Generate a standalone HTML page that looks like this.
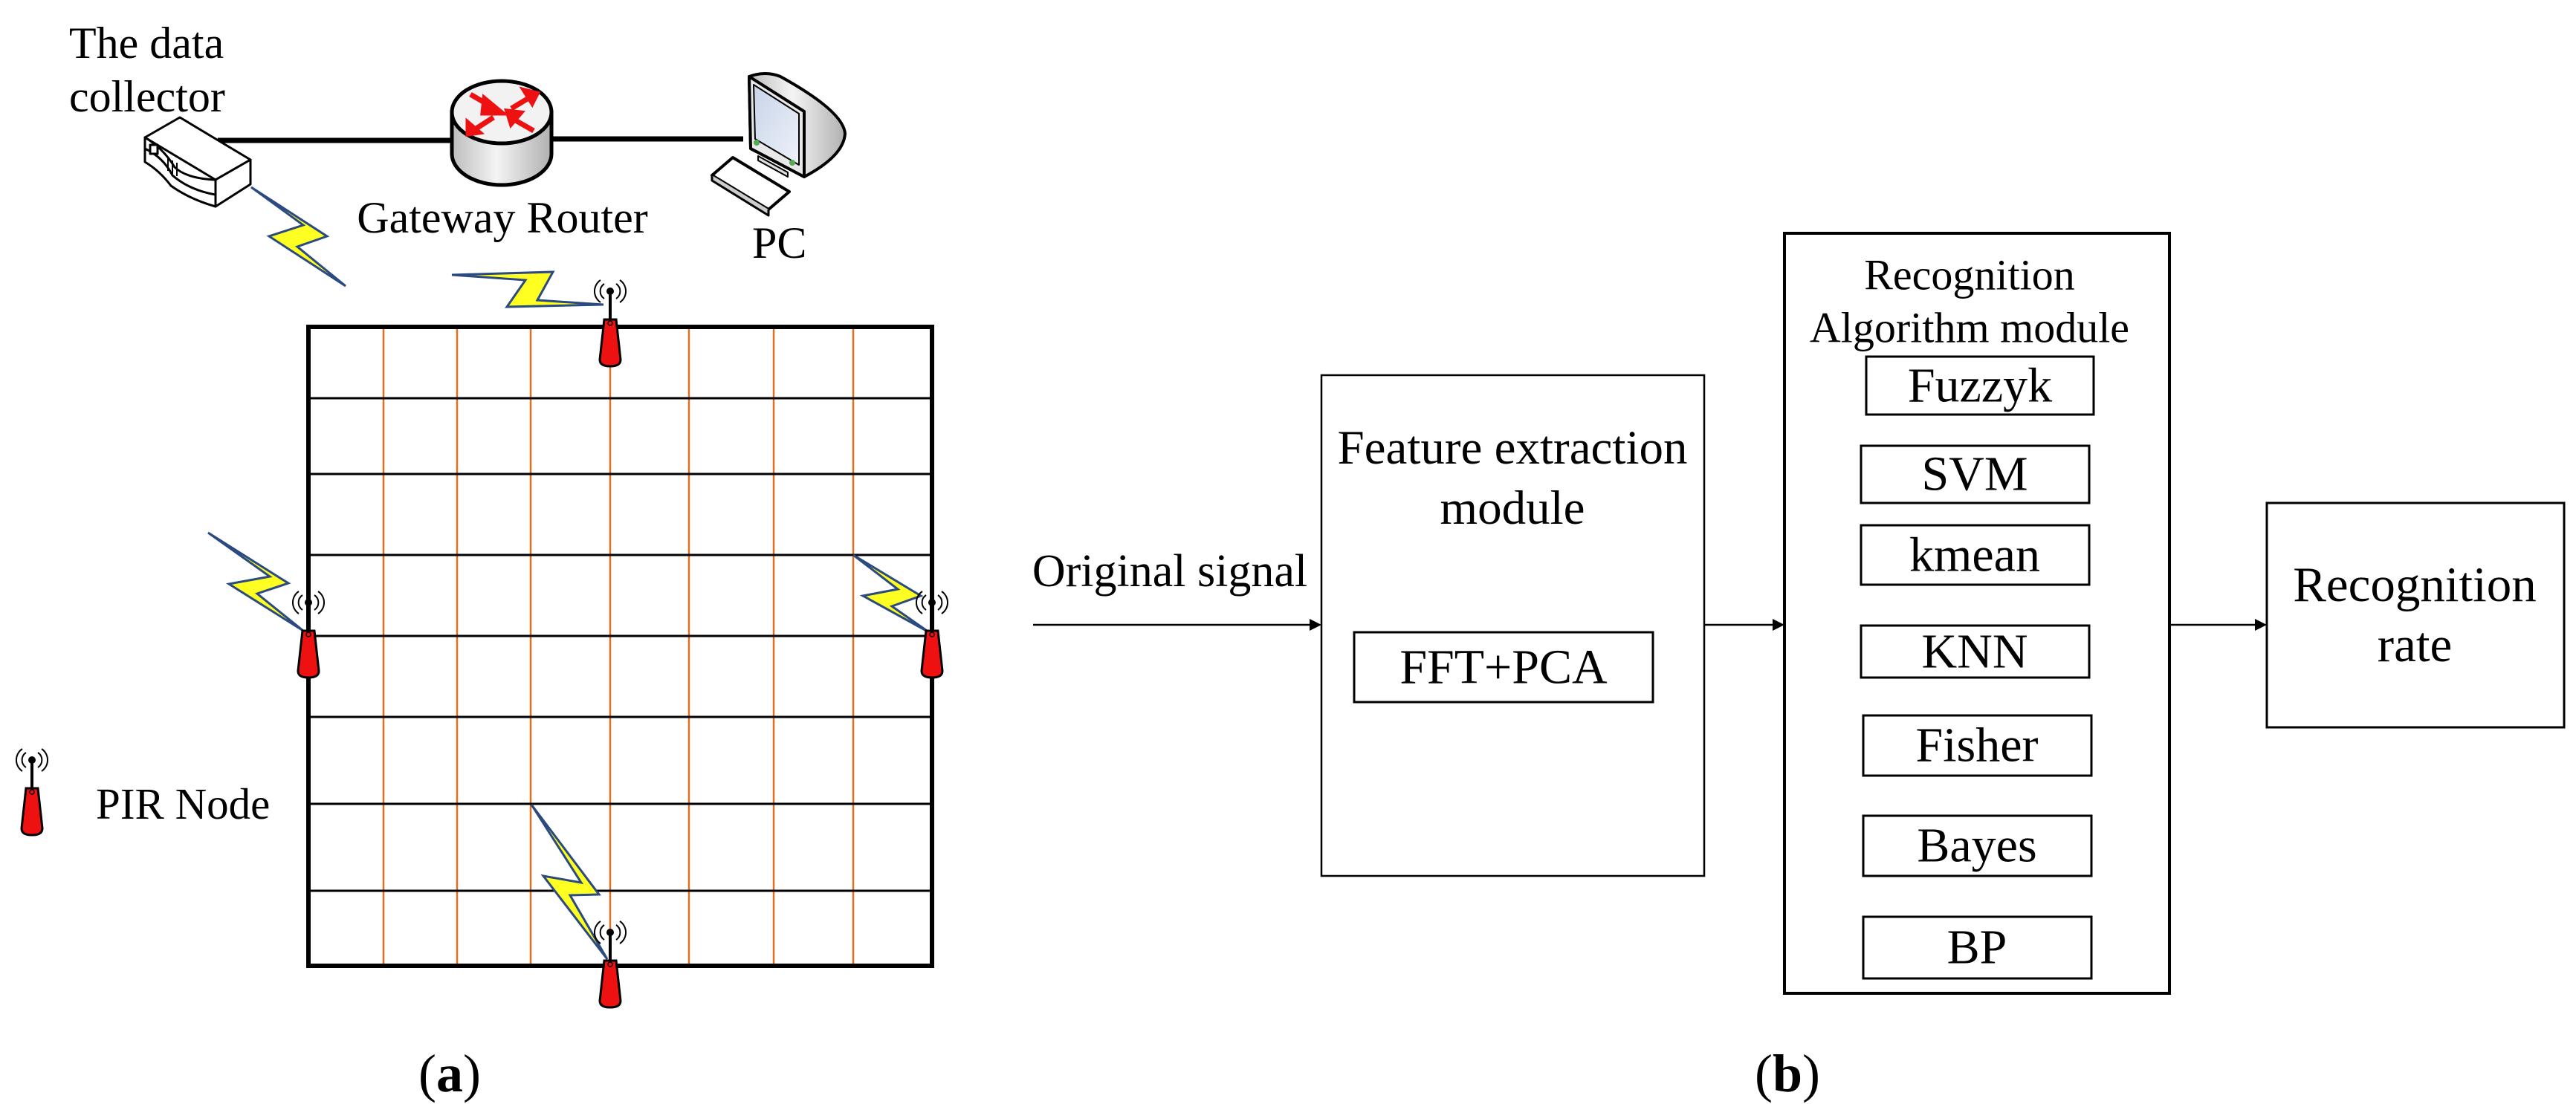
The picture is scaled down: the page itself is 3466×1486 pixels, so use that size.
<!DOCTYPE html>
<html><head><meta charset="utf-8"><style>
html,body{margin:0;padding:0;background:#fff;}
svg{display:block;}
svg text{font-family:"Liberation Serif","Times New Roman",Times,serif !important;fill:#000;}
</style></head><body>
<svg width="3466" height="1486" viewBox="0 0 3466 1486" xmlns="http://www.w3.org/2000/svg" font-family="Liberation Serif, Times New Roman, serif">
<defs>
<linearGradient id="cyl" x1="0" x2="1" y1="0" y2="0">
<stop offset="0" stop-color="#bdbdbd"/><stop offset="0.45" stop-color="#f4f4f4"/><stop offset="1" stop-color="#b0b0b0"/>
</linearGradient>
<linearGradient id="scr" x1="0" x2="1" y1="0" y2="1">
<stop offset="0" stop-color="#c8d4e8"/><stop offset="1" stop-color="#eef2fa"/>
</linearGradient>
<g id="node">
<line x1="0" y1="0" x2="0" y2="-38" stroke="#000" stroke-width="4"/>
<circle cx="0" cy="-38" r="5" fill="#000"/>
<path d="M-8,-48 A12,12 0 0 0 -8,-28 M8,-48 A12,12 0 0 1 8,-28 M-13,-53 A18,18 0 0 0 -13,-23 M13,-53 A18,18 0 0 1 13,-23" fill="none" stroke="#000" stroke-width="2"/>
<path d="M-8,0 L8,0 L14,54 Q14,63 0,63 Q-14,63 -14,54 Z" fill="#ee1111" stroke="#000" stroke-width="3"/>
<circle cx="0" cy="5" r="3" fill="none" stroke="#000" stroke-width="1.5"/>
</g>
</defs>

<line x1="293" y1="189" x2="610" y2="189" stroke="#000" stroke-width="7"/>
<line x1="740" y1="187" x2="1000" y2="187" stroke="#000" stroke-width="7"/>
<g stroke="#000" stroke-width="3" fill="#fff" stroke-linejoin="round">
<path d="M195,185 L242,158 L337,215 L290,242 Z"/>
<path d="M290,242 L337,215 L337,248 L290,278 Z"/>
<path d="M195,185 L195,218 Q215,230 230,250 Q255,268 290,278 L290,242 Q250,240 235,225 Q220,200 195,185 Z"/>
<path d="M195,200 Q220,212 232,236 Q255,256 290,262" fill="none"/>
<rect x="202" y="195" width="10" height="12"/>
<path d="M226,212 L226,230 M232,216 L232,234 M238,219 L238,237" fill="none" stroke-width="2"/>
</g>
<path d="M608,151 L608,207 A67,42 0 0 0 742,207 L742,151 Z" fill="url(#cyl)" stroke="#000" stroke-width="5"/>
<ellipse cx="675" cy="151" rx="67" ry="42" fill="#f2f2f2" stroke="#000" stroke-width="5"/>
<g stroke="#ee1111" stroke-width="7" fill="#ee1111">
<line x1="633" y1="127" x2="662" y2="144"/><polygon points="652,133 675,152 650,152"/>
<line x1="718" y1="128" x2="688" y2="146"/><polygon points="706,122 722,126 716,138"/>
<line x1="636" y1="176" x2="664" y2="158"/><polygon points="630,166 630,180 644,178"/>
<line x1="718" y1="176" x2="690" y2="160"/><polygon points="683,150 700,152 688,166"/>
</g>
<g stroke="#000" stroke-width="4" stroke-linejoin="round">
<path d="M1008,103 Q1030,95 1050,103 Q1135,150 1137,180 Q1135,210 1082,238 L1010,200 Z" fill="url(#cyl)"/>
<path d="M1008,103 L1082,150 L1082,238 L1010,200 Z" fill="#e8e8e8"/>
<path d="M1014,114 L1075,153 L1075,222 L1016,187 Z" fill="url(#scr)" stroke-width="2"/>
<path d="M1020,210 L1060,232 L1060,238 L1020,216 Z" fill="#ddd" stroke-width="2"/>
<path d="M958,236 L986,212 L1062,258 L1034,282 Z" fill="#fff"/>
<path d="M958,236 L958,243 L1034,290 L1034,282" fill="#ccc" stroke-width="3"/>
</g>
<circle cx="1018" cy="192" r="4" fill="#5a5"/><circle cx="1066" cy="219" r="4" fill="#5a5"/>

<text x="93" y="58" font-size="60" dominant-baseline="central">The data</text>
<text x="93" y="130" font-size="60" dominant-baseline="central">collector</text>
<text x="676" y="293" font-size="60" text-anchor="middle" dominant-baseline="central">Gateway Router</text>
<text x="1012" y="327" font-size="60" dominant-baseline="central">PC</text>

<g stroke="#e07020" stroke-width="2.5">
<line x1="516" y1="440" x2="516" y2="1300"/><line x1="615" y1="440" x2="615" y2="1300"/>
<line x1="714" y1="440" x2="714" y2="1300"/><line x1="821" y1="440" x2="821" y2="1300"/>
<line x1="927" y1="440" x2="927" y2="1300"/><line x1="1041" y1="440" x2="1041" y2="1300"/>
<line x1="1148" y1="440" x2="1148" y2="1300"/>
</g>
<g stroke="#000" stroke-width="3">
<line x1="415" y1="536" x2="1254" y2="536"/><line x1="415" y1="638" x2="1254" y2="638"/>
<line x1="415" y1="747" x2="1254" y2="747"/><line x1="415" y1="856" x2="1254" y2="856"/>
<line x1="415" y1="965" x2="1254" y2="965"/><line x1="415" y1="1082" x2="1254" y2="1082"/>
<line x1="415" y1="1199" x2="1254" y2="1199"/>
</g>
<rect x="415" y="440" width="839" height="860" fill="none" stroke="#000" stroke-width="6"/>

<g fill="#ffff22" stroke="#2a4a80" stroke-width="3" stroke-linejoin="miter">
<polygon points="338,252 440,318 400,332 465,385 362,318 408,303"/>
<polygon points="608,370 744,366 723,404 812,410 682,413 707,377"/>
<polygon points="280,717 388,785 346,799 408,849 308,786 363,776"/>
<polygon points="1148,747 1239,802 1200,816 1250,851 1161,802 1208,793"/>
<polygon points="715,1083 806,1204 767,1205 817,1291 731,1179 782,1188"/>
</g>

<use href="#node" x="821" y="430"/>
<use href="#node" x="415" y="849"/>
<use href="#node" x="1254" y="849"/>
<use href="#node" x="821" y="1293"/>
<use href="#node" x="43" y="1061"/>
<text x="129" y="1082" font-size="59" dominant-baseline="central">PIR Node</text>

<text x="605" y="1445" font-size="72" text-anchor="middle" dominant-baseline="central">(<tspan font-weight="bold">a</tspan>)</text>

<text x="1574" y="769" font-size="62" text-anchor="middle" dominant-baseline="central">Original signal</text>
<g stroke="#000" stroke-width="2.5">
<line x1="1390" y1="841" x2="1764" y2="841"/>
<line x1="2293" y1="841" x2="2390" y2="841"/>
<line x1="2919" y1="841" x2="3040" y2="841"/>
</g>
<polygon points="1778,841 1762,833 1762,849" fill="#000"/>
<polygon points="2401,841 2385,833 2385,849" fill="#000"/>
<polygon points="3050,841 3034,833 3034,849" fill="#000"/>

<rect x="1778" y="505" width="515" height="674" fill="none" stroke="#000" stroke-width="2.5"/>
<text x="2035" y="603" font-size="65" text-anchor="middle" dominant-baseline="central">Feature extraction</text>
<text x="2035" y="684" font-size="65" text-anchor="middle" dominant-baseline="central">module</text>
<rect x="1822" y="851" width="402" height="94" fill="none" stroke="#000" stroke-width="3"/>
<text x="2023" y="898" font-size="66" text-anchor="middle" dominant-baseline="central">FFT+PCA</text>

<rect x="2401" y="314" width="518" height="1023" fill="none" stroke="#000" stroke-width="4"/>
<text x="2650" y="370" font-size="58" text-anchor="middle" dominant-baseline="central">Recognition</text>
<text x="2650" y="441" font-size="58" text-anchor="middle" dominant-baseline="central">Algorithm module</text>
<g fill="none" stroke="#000" stroke-width="3">
<rect x="2511" y="480" width="306" height="78"/>
<rect x="2504" y="600" width="307" height="77"/>
<rect x="2504" y="707" width="307" height="80"/>
<rect x="2504" y="842" width="307" height="70"/>
<rect x="2507" y="963" width="307" height="81"/>
<rect x="2507" y="1098" width="307" height="81"/>
<rect x="2507" y="1234" width="307" height="83"/>
</g>
<g font-size="66" text-anchor="middle">
<text x="2664" y="519" dominant-baseline="central">Fuzzyk</text>
<text x="2657" y="638" dominant-baseline="central">SVM</text>
<text x="2657" y="747" dominant-baseline="central">kmean</text>
<text x="2657" y="877" dominant-baseline="central">KNN</text>
<text x="2660" y="1003" dominant-baseline="central">Fisher</text>
<text x="2660" y="1138" dominant-baseline="central">Bayes</text>
<text x="2660" y="1275" dominant-baseline="central">BP</text>
</g>

<rect x="3050" y="677" width="400" height="302" fill="none" stroke="#000" stroke-width="3"/>
<text x="3249" y="787" font-size="67" text-anchor="middle" dominant-baseline="central">Recognition</text>
<text x="3249" y="868" font-size="67" text-anchor="middle" dominant-baseline="central">rate</text>

<text x="2405" y="1445" font-size="72" text-anchor="middle" dominant-baseline="central">(<tspan font-weight="bold">b</tspan>)</text>
</svg>
</body></html>
